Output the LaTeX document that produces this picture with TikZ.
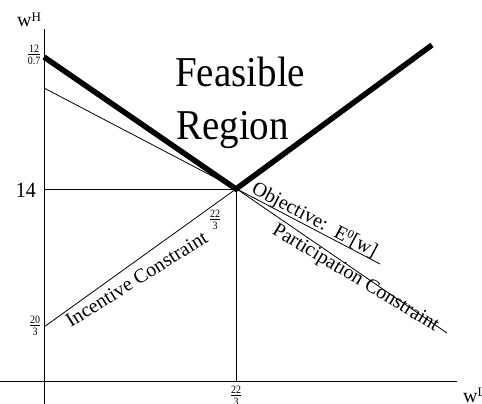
\documentclass[tikz,border=0pt]{standalone}
\usepackage{fontspec}
\setmainfont{Liberation Serif}
\usepackage{graphicx}
\newcommand\vst[1]{\scalebox{1}[1.09]{#1}}
\newcommand\fr[2]{{\fontsize{10}{10}\selectfont\renewcommand\arraystretch{0}\setlength\tabcolsep{0pt}\scalebox{1}[1.12]{\begin{tabular}{c}\rule[-1.5pt]{0pt}{8.5pt}#1\\\hline\rule{0pt}{9pt}#2\end{tabular}}}}
\begin{document}
\begin{tikzpicture}[x=1pt,y=1pt,
  axisline/.style={line width=0.8pt},
  thinline/.style={line width=0.8pt},
  heavyline/.style={line width=5.5pt, line join=miter},
  lbl/.style={inner sep=0pt},
  rot/.style={inner sep=0pt, font=\fontsize{20}{20}\selectfont}]
\useasboundingbox (0,0) rectangle (482,404);
\clip (0,0) rectangle (482,404);
\coordinate (ytop) at (44,375);
\coordinate (ybot) at (44,0);
\coordinate (xl) at (0,23);
\coordinate (xr) at (457,23);
\coordinate (V) at (236,215);
\coordinate (A) at (44,347);
\coordinate (B) at (432,359);
\coordinate (C) at (44,316);
\coordinate (D) at (380,140);
\coordinate (P) at (447,71);
\coordinate (I) at (44,77);
\coordinate (H14) at (44,215);
\coordinate (Vb) at (236,23);
% axes
\draw[axisline] (ybot) -- (ytop);
\draw[axisline] (xl) -- (xr);
% guide lines
\draw[thinline] (H14) -- (V) -- (Vb);
\draw[thinline] (C) -- (D);
\draw[thinline] (A) -- (P);
\draw[thinline] (I) -- (V);
\draw[heavyline] (A) -- (V) -- (B);
% axis labels
\node[lbl, anchor=base west] (wH) at (17,377) {\fontsize{20}{20}\selectfont w\raisebox{5.5pt}{\fontsize{13}{13}\selectfont H}};
\node[lbl, anchor=base west] (wL) at (463,1) {\fontsize{20}{20}\selectfont w\raisebox{6pt}{\fontsize{13}{13}\selectfont L}};
\node[lbl] (f12) at (34,349) {\fr{12}{0.7}};
\node[lbl] (n14) at (26,214) {\vst{\fontsize{20}{20}\selectfont 14}};
\node[lbl] (f20) at (35,78) {\fr{20}{3}};
\node[lbl] (f22a) at (215,184) {\fr{22}{3}};
\node[lbl] (f22b) at (236,8) {\fr{22}{3}};
% region
\node[lbl, anchor=base west] (feas) at (175,317) {\vst{\fontsize{39}{39}\selectfont Feasible}};
\node[lbl, anchor=base west] (reg) at (176,264) {\vst{\fontsize{39}{39}\selectfont Region}};
% line labels
\node[rot, anchor=base, rotate=32] (inc) at (140,119.5) {Incentive Constraint};
\node[rot, anchor=base, rotate=-31] (par) at (353,121.5) {Participation Constraint};
\node[rot, anchor=base, rotate=-28] (obj) at (312,179) {Objective:\ \ E\raisebox{6pt}{\fontsize{12}{12}\selectfont 0}[w]};
\end{tikzpicture}
\end{document}
